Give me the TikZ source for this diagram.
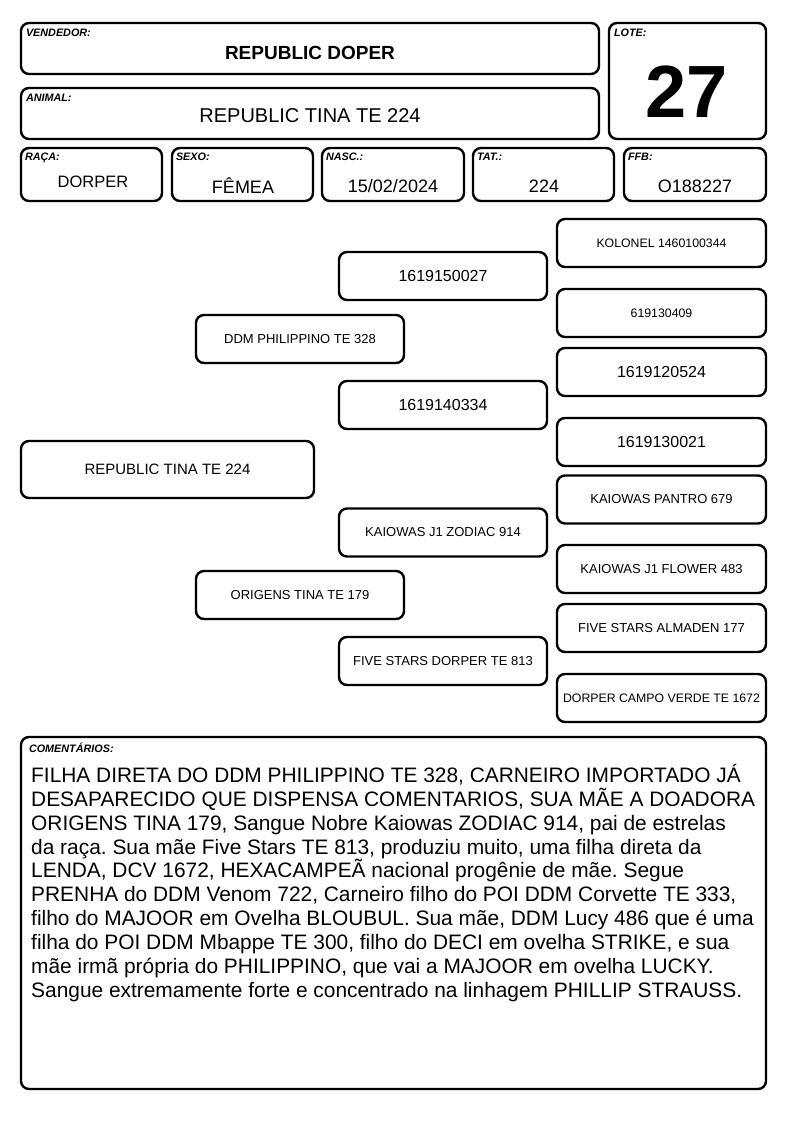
\documentclass[tikz,border=0pt]{standalone}
\usepackage{fontspec}
\setmainfont{Liberation Sans}
\usetikzlibrary{positioning}
\frenchspacing
\tikzset{
  caixa/.style={draw, line width=2.4pt, rounded corners=8pt, inner sep=0pt},
  rotulo/.style={anchor=north west, inner sep=0pt, font=\fontsize{10.8}{12}\selectfont\bfseries\itshape},
  valor/.style={inner sep=0pt, font=\fontsize{18}{20}\selectfont},
  avo/.style={caixa, minimum width=209pt, minimum height=48pt, font=\fontsize{13}{15}\selectfont},
  pai/.style={caixa, minimum width=208pt, minimum height=48pt, font=\fontsize{13}{15}\selectfont},
  num/.style={font=\fontsize{16}{18}\selectfont},
  miudo/.style={font=\fontsize{12.3}{14}\selectfont},
}

\begin{document}
\begin{tikzpicture}[x=1pt, y=-1pt]
\useasboundingbox (0,0) rectangle (794,1123);

% cabecalho
\node[caixa, minimum width=578pt, minimum height=51pt] (vendedor) at (310,48.5) {};
\node[rotulo] (lvendedor) at ([xshift=6pt,yshift=-7pt]vendedor.north west) {VENDEDOR:};
\node[valor, font=\fontsize{19}{21}\selectfont\bfseries] (nvendedor) at (310,53) {REPUBLIC DOPER};

\node[caixa, minimum width=578pt, minimum height=51pt] (animal) at (310,113.5) {};
\node[rotulo] (lanimal) at ([xshift=6pt,yshift=-7pt]animal.north west) {ANIMAL:};
\node[valor, font=\fontsize{20}{22}\selectfont] (nanimal) at (310,116) {REPUBLIC TINA TE 224};

\node[caixa, minimum width=157pt, minimum height=116pt] (lote) at (687.5,81) {};
\node[rotulo] (llote) at ([xshift=6pt,yshift=-7pt]lote.north west) {LOTE:};
\node[valor, font=\fontsize{74}{80}\selectfont\bfseries] (nlote) at (687,92) {27};

% dados do animal
\node[caixa, minimum width=141pt, minimum height=53pt] (raca) at (91.5,174.5) {};
\node[caixa, minimum width=141pt, minimum height=53pt] (sexo) at (242.5,174.5) {};
\node[caixa, minimum width=142pt, minimum height=53pt] (nasc) at (393,174.5) {};
\node[caixa, minimum width=141pt, minimum height=53pt] (tat) at (543.5,174.5) {};
\node[caixa, minimum width=142pt, minimum height=53pt] (ffb) at (695,174.5) {};
\foreach \caixa/\texto in {raca/RAÇA:, sexo/SEXO:, nasc/NASC.:, tat/TAT.:, ffb/FFB:}
  \node[rotulo] (l\caixa) at ([xshift=5pt,yshift=-6pt]\caixa.north west) {\texto};
\node[valor, font=\fontsize{16.5}{18}\selectfont] (nraca) at (93,182) {DORPER};
\node[valor] (nsexo) at (243,186) {FÊMEA};
\node[valor] (nnasc) at (393,186) {15/02/2024};
\node[valor] (ntat) at (544,186) {224};
\node[valor] (nffb) at (695,186) {O188227};

% genealogia
\node[caixa, minimum width=293pt, minimum height=57pt, font=\fontsize{15}{17}\selectfont] (filha) at (167.5,469.5) {REPUBLIC TINA TE 224};

\node[pai] (pai) at (300,339) {DDM PHILIPPINO TE 328};
\node[pai] (mae) at (300,595) {ORIGENS TINA TE 179};

\node[pai, num] (avopp) at (443,276) {1619150027};
\node[pai, num] (avopm) at (443,405) {1619140334};
\node[pai] (avomp) at (443,532.5) {KAIOWAS J1 ZODIAC 914};
\node[pai] (avomm) at (443,661) {FIVE STARS DORPER TE 813};

\node[avo, miudo] (bis1) at (661.5,243) {KOLONEL 1460100344};
\node[avo, miudo] (bis2) at (661.5,313) {619130409};
\node[avo, num] (bis3) at (661.5,372) {1619120524};
\node[avo, num] (bis4) at (661.5,442) {1619130021};
\node[avo] (bis5) at (661.5,499.5) {KAIOWAS PANTRO 679};
\node[avo] (bis6) at (661.5,569) {KAIOWAS J1 FLOWER 483};
\node[avo] (bis7) at (661.5,628) {FIVE STARS ALMADEN 177};
\node[avo, miudo] (bis8) at (661.5,698) {DORPER CAMPO VERDE TE 1672};

% comentarios
\node[caixa, minimum width=745pt, minimum height=352pt] (coment) at (393.5,913) {};
\node[rotulo] (lcoment) at ([xshift=9pt,yshift=-7pt]coment.north west) {COMENTÁRIOS:};
\node[anchor=north west, inner sep=0pt, align=left, font=\fontsize{20.9}{23.9}\selectfont] (tcoment) at (31,764) {%
FILHA DIRETA DO DDM PHILIPPINO TE 328, CARNEIRO IMPORTADO JÁ\\
DESAPARECIDO QUE DISPENSA COMENTARIOS, SUA MÃE A DOADORA\\
ORIGENS TINA 179, Sangue Nobre Kaiowas ZODIAC 914, pai de estrelas\\
da raça. Sua mãe Five Stars TE 813, produziu muito, uma filha direta da\\
LENDA, DCV 1672, HEXACAMPEÃ nacional progênie de mãe. Segue\\
PRENHA do DDM Venom 722, Carneiro filho do POI DDM Corvette TE 333,\\
filho do MAJOOR em Ovelha BLOUBUL. Sua mãe, DDM Lucy 486 que é uma\\
filha do POI DDM Mbappe TE 300, filho do DECI em ovelha STRIKE, e sua\\
mãe irmã própria do PHILIPPINO, que vai a MAJOOR em ovelha LUCKY.\\
Sangue extremamente forte e concentrado na linhagem PHILLIP STRAUSS.};
\end{tikzpicture}
\end{document}
